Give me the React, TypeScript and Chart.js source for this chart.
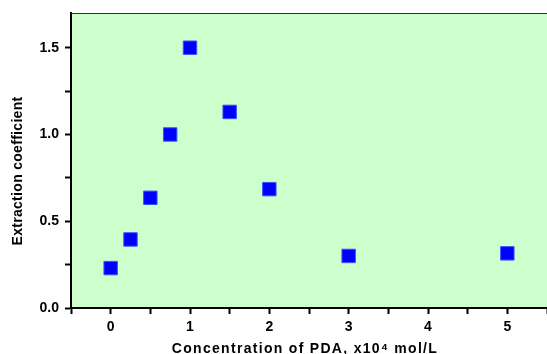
import React, { useEffect, useRef } from "react";
import { Chart, registerables } from "chart.js";

Chart.register(...registerables);

const concentrations = [0, 0.25, 0.5, 0.75, 1, 1.5, 2, 3, 5];
const extraction = [0.23, 0.395, 0.635, 1.0, 1.5, 1.13, 0.685, 0.3, 0.315];
const xTickLabels = ["0", "1", "2", "3", "4", "5"];
const yTickLabels = ["0.0", "0.5", "1.0", "1.5"];
const xTitle = "Concentration of PDA, x10⁴ mol/L";
const yTitle = "Extraction coefficient";

const FONT = "'Liberation Sans', Arial, sans-serif";

const bgPlugin = {
  id: "bgPlugin",
  beforeDraw(chart: any) {
    const { ctx, chartArea } = chart;
    ctx.save();
    ctx.fillStyle = "#CCFFCC";
    ctx.fillRect(chartArea.left, chartArea.top, chartArea.right - chartArea.left, chartArea.bottom - chartArea.top);
    ctx.restore();
  },
  afterDraw(chart: any) {
    const { ctx, chartArea } = chart;
    ctx.save();
    ctx.strokeStyle = "#333333";
    ctx.lineWidth = 1;
    ctx.beginPath();
    ctx.moveTo(chartArea.left, chartArea.top + 0.5);
    ctx.lineTo(chartArea.right, chartArea.top + 0.5);
    ctx.stroke();

    ctx.fillStyle = "#000";
    ctx.font = `bold 14px ${FONT}`;
    ctx.textAlign = "center";
    ctx.textBaseline = "alphabetic";
    (ctx as any).letterSpacing = "1.3px";
    ctx.fillText(xTitle, (chartArea.left + chartArea.right) / 2 - 4, 353);

    (ctx as any).letterSpacing = "0.3px";
    ctx.translate(22, 171);
    ctx.rotate(-Math.PI / 2);
    ctx.fillText(yTitle, 0, 0);
    ctx.restore();
  },
};

export default function App() {
  const ref = useRef<HTMLCanvasElement>(null);
  useEffect(() => {
    document.body.style.margin = "0";
    const chart = new Chart(ref.current!, {
      type: "scatter",
      data: {
        datasets: [
          {
            data: concentrations.map((x, i) => ({ x, y: extraction[i] })),
            pointStyle: "rect",
            pointRadius: 9.5,
            backgroundColor: "#0000FF",
            borderColor: "#3355FF",
            borderWidth: 1,
          },
        ],
      },
      options: {
        animation: false,
        responsive: false,
        layout: { autoPadding: false, padding: { top: 13, left: 0, right: 0, bottom: 0 } },
        plugins: { legend: { display: false }, tooltip: { enabled: false } },
        scales: {
          x: {
            type: "linear",
            min: -0.5,
            max: 5.5,
            afterFit(axis: any) {
              axis.height = 46;
              axis.paddingLeft = 0;
              axis.paddingRight = 0;
            },
            ticks: {
              stepSize: 0.5,
              autoSkip: false,
              maxRotation: 0,
              color: "#000",
              padding: 5,
              font: { family: FONT, size: 14, weight: "bold" },
              callback(v: any) {
                const n = Number(v);
                if (Number.isInteger(n) && n >= 0) return xTickLabels[n];
                return "";
              },
            },
            grid: { drawOnChartArea: false, drawTicks: true, tickLength: 6, tickWidth: 2, color: "#000" },
            border: { display: true, color: "#000", width: 2 },
          },
          y: {
            type: "linear",
            min: 0,
            max: 1.7,
            afterFit(axis: any) {
              axis.width = 71;
              axis.paddingTop = 0;
              axis.paddingBottom = 0;
            },
            afterBuildTicks(axis: any) {
              axis.ticks = [0, 0.25, 0.5, 0.75, 1, 1.25, 1.5].map((v) => ({ value: v }));
            },
            ticks: {
              autoSkip: false,
              color: "#000",
              padding: 6,
              font: { family: FONT, size: 14, weight: "bold" },
              callback(v: any) {
                const n = Number(v);
                const idx = n / 0.5;
                if (Math.abs(idx - Math.round(idx)) < 1e-6) return yTickLabels[Math.round(idx)];
                return "";
              },
            },
            grid: { drawOnChartArea: false, drawTicks: true, tickLength: 6, tickWidth: 2, color: "#000" },
            border: { display: true, color: "#000", width: 2 },
          },
        },
      },
      plugins: [bgPlugin],
    });
    return () => chart.destroy();
  }, []);
  return <canvas ref={ref} width={547} height={354} style={{ display: "block" }} />;
}
